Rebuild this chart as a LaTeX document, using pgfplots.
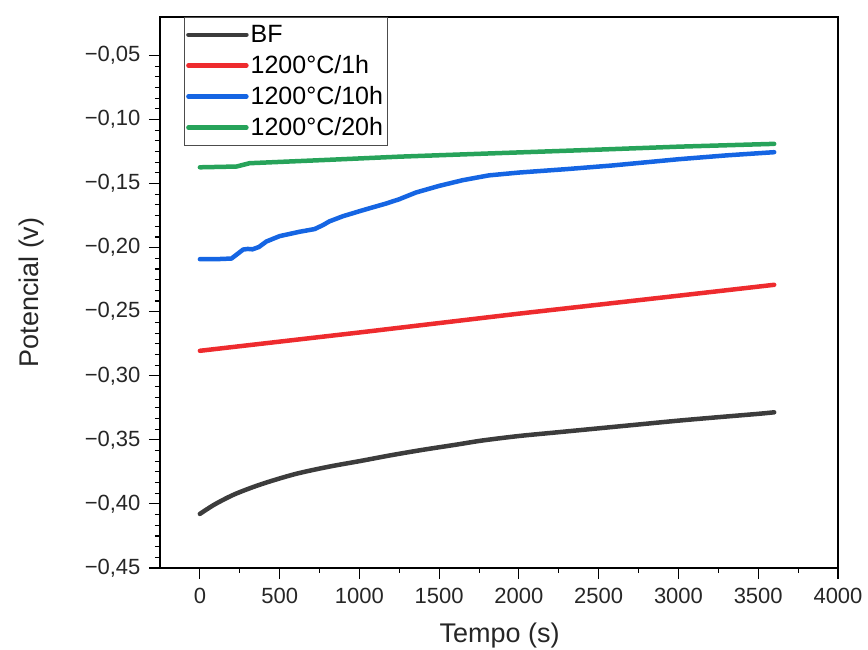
\documentclass[border=0pt]{standalone}
\usepackage{pgfplots}
\pgfplotsset{compat=1.18}
\usepackage{fontspec}
\setmainfont{Liberation Sans}

\definecolor{cBF}{HTML}{3C3C3C}
\definecolor{cR}{HTML}{EE2B2E}
\definecolor{cB}{HTML}{1565E3}
\definecolor{cG}{HTML}{27A35A}

\begin{document}
\begin{tikzpicture}
\useasboundingbox (-160pt,-82pt) rectangle (708pt,568pt);
\begin{axis}[
    at={(0pt,0pt)}, anchor=south west,
    scale only axis, width=678pt, height=551pt,
    xmin=-250, xmax=4000, ymin=-0.45, ymax=-0.02,
    xtick={0,500,...,4000}, minor x tick num=1,
    ytick={-0.45,-0.40,-0.35,-0.30,-0.25,-0.20,-0.15,-0.10,-0.05},
    yticklabels={{−0,45},{−0,40},{−0,35},{−0,30},{−0,25},{−0,20},{−0,15},{−0,10},{−0,05}},
    minor y tick num=5,
    tick align=outside, tick pos=left,
    major tick length=11pt, minor tick length=5pt,
    every tick/.style={black, line width=1.1pt},
    axis line style={line width=1.2pt},
    /pgf/number format/assume math mode=true,
    /pgf/number format/set thousands separator={},
    ticklabel style={font=\fontsize{22}{26}\selectfont, text=black!85},
    yticklabel style={xshift=-5pt},
    xticklabel style={yshift=-6pt},
    xlabel={Tempo (s)}, ylabel={Potencial (v)},
    label style={font=\fontsize{27}{31}\selectfont, text=black!85},
    xlabel style={at={(axis description cs:0.501,-0.122)}, anchor=center},
    ylabel style={at={(axis description cs:-0.19,0.5)}, anchor=center},
    legend style={at={(axis description cs:0.035,1)}, anchor=north west,
        font=\fontsize{25}{28}\selectfont, draw=black!70, line width=0.9pt,
        row sep=7.5pt, inner xsep=2pt, inner ysep=6pt},
    legend cell align=left,
    legend image code/.code={\draw[#1, line width=4.5pt] (0pt,0pt) -- (58pt,0pt);},
    every axis plot/.append style={line width=4.5pt, line cap=round, line join=round},
]
\addplot[cBF, smooth] coordinates {
(0,-0.4078) (94,-0.4003) (219,-0.3924) (385,-0.3846) (594,-0.3768)
(802,-0.3711) (1010,-0.3664) (1198,-0.3620) (1396,-0.3578) (1604,-0.3538)
(1771,-0.3505) (2000,-0.3470) (2250,-0.3440) (2500,-0.3410) (2750,-0.3380)
(3000,-0.3350) (3250,-0.3323) (3500,-0.3297) (3600,-0.3285)};
\addlegendentry{BF}
\addplot[cR] coordinates {(0,-0.2805) (1000,-0.2662) (2000,-0.2515) (3000,-0.2375) (3600,-0.2290)};
\addlegendentry{1200°C/1h}
\addplot[cB] coordinates {
(0,-0.2090) (100,-0.2090) (198,-0.2085) (240,-0.2045) (271,-0.2015) (300,-0.2010)
(330,-0.2013) (370,-0.1995) (417,-0.1952) (500,-0.1910) (625,-0.1876)
(719,-0.1855) (770,-0.1825) (812,-0.1795) (896,-0.1755) (1021,-0.1708) (1167,-0.1656)
(1250,-0.1622) (1354,-0.1570) (1500,-0.1518) (1646,-0.1474) (1750,-0.1450)
(1812,-0.1436) (2000,-0.1414) (2300,-0.1387) (2583,-0.1359) (3000,-0.1310) (3300,-0.1280)
(3600,-0.1255)};
\addlegendentry{1200°C/10h}
\addplot[cG] coordinates {
(0,-0.1373) (229,-0.1367) (312,-0.1341) (800,-0.1315) (1250,-0.1290)
(1812,-0.1265) (2500,-0.1235) (3000,-0.1212) (3600,-0.1190)};
\addlegendentry{1200°C/20h}
\end{axis}
\end{tikzpicture}
\end{document}
